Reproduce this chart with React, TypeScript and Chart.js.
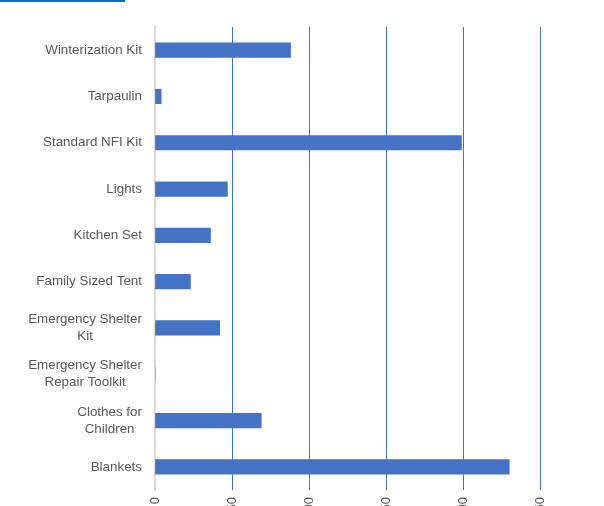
import React, { useEffect, useRef } from "react";
import { Chart, registerables } from "chart.js";

Chart.register(...registerables);

const categories: string[][] = [
  ["Winterization Kit"],
  ["Tarpaulin"],
  ["Standard NFI Kit"],
  ["Lights"],
  ["Kitchen Set"],
  ["Family Sized Tent"],
  ["Emergency Shelter", "Kit"],
  ["Emergency Shelter", "Repair Toolkit"],
  ["Clothes for", "Children"],
  ["Blankets"],
];
const values: number[] = [88, 4, 199, 47, 36, 23, 42, 0, 69, 230];
const xTickValues: number[] = [0, 50, 100, 150, 200, 250];

const FONT = "'Liberation Sans', Arial, sans-serif";
const LABEL_COLOR = "#595959";

const yLabelPlugin = {
  id: "yLabelPlugin",
  afterDraw(chart: any) {
    const ctx = chart.ctx;
    const y = chart.scales.y;
    const right = chart.chartArea.left - 13;
    ctx.save();
    ctx.font = `13.4px ${FONT}`;
    ctx.fillStyle = LABEL_COLOR;
    ctx.textBaseline = "middle";
    ctx.textAlign = "center";
    const lh = 17;
    categories.forEach((lines, i) => {
      const cy = y.getPixelForTick(i);
      const maxW = Math.max(...lines.map((l) => ctx.measureText(l).width));
      const cx = right - maxW / 2;
      const start = cy - ((lines.length - 1) * lh) / 2;
      lines.forEach((l, j) => ctx.fillText(l, cx, start + j * lh));
    });
    ctx.restore();
  },
};

export default function App() {
  const ref = useRef<HTMLCanvasElement | null>(null);
  useEffect(() => {
    if (!ref.current) return;
    const chart = new Chart(ref.current, {
      type: "bar",
      data: {
        labels: categories.map((c) => c.join(" ")),
        datasets: [
          {
            data: values,
            backgroundColor: "#4472C4",
            borderWidth: 0,
            barThickness: 14.5,
          },
        ],
      },
      options: {
        indexAxis: "y",
        animation: false,
        responsive: false,
        maintainAspectRatio: false,
        layout: { padding: { top: 19, right: 56, left: 0, bottom: 0 } },
        plugins: {
          legend: { display: false },
          tooltip: { enabled: false },
          title: { display: false },
        },
        scales: {
          x: {
            min: 0,
            max: 250,
            afterBuildTicks: (scale: any) => {
              scale.ticks = xTickValues.map((v) => ({ value: v }));
            },
            afterFit: (scale: any) => {
              scale.height = 48;
            },
            grid: {
              color: (c: any) => (c.tick && c.tick.value === 0 ? "rgba(0,0,0,0)" : "#4472C4"),
              lineWidth: 1,
              drawTicks: true,
              tickLength: 0,
            },
            border: { display: false },
            ticks: {
              color: LABEL_COLOR,
              font: { family: FONT, size: 13 },
              minRotation: 90,
              maxRotation: 90,
              padding: 7,
            },
          },
          y: {
            afterFit: (scale: any) => {
              scale.width = 147;
            },
            grid: { display: false },
            border: { display: true, color: "#D9D9D9", width: 2 },
            ticks: {
              color: "rgba(0,0,0,0)",
              font: { family: FONT, size: 13 },
            },
          },
        },
      },
      plugins: [yLabelPlugin],
    });
    return () => chart.destroy();
  }, []);
  return (
    <div style={{ position: "relative" }}>
      <div
        style={{
          position: "fixed",
          top: 0,
          left: 0,
          width: 125,
          height: 2,
          background: "#0070C0",
          zIndex: 10,
        }}
      />
      <canvas ref={ref} width={588} height={530} style={{ display: "block" }} />
    </div>
  );
}
